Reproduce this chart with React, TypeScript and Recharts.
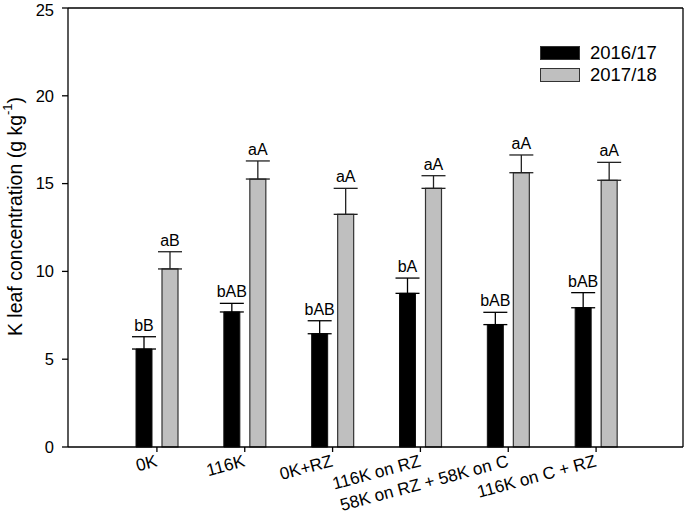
import {
  Bar,
  BarChart,
  CartesianGrid,
  ErrorBar,
  LabelList,
  Legend,
  XAxis,
  YAxis,
} from "recharts";

const categories = [
  "0K",
  "116K",
  "0K+RZ",
  "116K on RZ",
  "58K on RZ + 58K on C",
  "116K on C + RZ",
];
const season1 = [5.58, 7.69, 6.45, 8.75, 6.97, 7.93];
const season1Err = [0.7, 0.49, 0.74, 0.87, 0.7, 0.86];
const season1Letters = ["bB", "bAB", "bAB", "bA", "bAB", "bAB"];
const season2 = [10.14, 15.26, 13.25, 14.73, 15.62, 15.19];
const season2Err = [0.98, 1.03, 1.48, 0.72, 1.01, 1.02];
const season2Letters = ["aB", "aA", "aA", "aA", "aA", "aA"];
const seriesNames = ["2016/17", "2017/18"];
const yTicks = [0, 5, 10, 15, 20, 25];

const FONT = '"Liberation Sans", Arial, sans-serif';

const rows = categories.map((name, i) => ({
  name,
  s1: season1[i],
  s1Err: [0, season1Err[i]],
  s2: season2[i],
  s2Err: [0, season2Err[i]],
}));

function letterLabel(letters: string[], errs: number[]) {
  return (props: any) => {
    const { x, y, width, height, value, index } = props;
    const perUnit = height / value;
    const capY = y - errs[index] * perUnit;
    return (
      <text
        x={x + width / 2}
        y={capY - 6}
        textAnchor="middle"
        fontSize={16}
        fontFamily={FONT}
        fill="#000"
      >
        {letters[index]}
      </text>
    );
  };
}

function CategoryTick(props: any) {
  const { x, y, payload } = props;
  return (
    <g transform={`translate(${x},${y})`}>
      <text
        x={-2}
        y={0}
        dy={12}
        textAnchor="end"
        transform="rotate(-15)"
        fontSize={17.2}
        fontFamily={FONT}
        fill="#000"
      >
        {payload.value}
      </text>
    </g>
  );
}

function YLabel(props: any) {
  const { viewBox } = props;
  const cx = 15;
  const cy = viewBox.y + viewBox.height / 2 - 11;
  return (
    <text
      x={cx}
      y={cy}
      transform={`rotate(-90, ${cx}, ${cy})`}
      textAnchor="middle"
      dominantBaseline="central"
      fontSize={19.5}
      fontFamily={FONT}
      fill="#000"
    >
      K leaf concentration (g kg
      <tspan fontSize={13} dy={-8}>
        -1
      </tspan>
      <tspan dy={8}>)</tspan>
    </text>
  );
}

function SeasonLegend() {
  const fills = ["#000", "#bfbfbf"];
  return (
    <div style={{ fontFamily: FONT, fontSize: 18.5, color: "#000" }}>
      {seriesNames.map((n, i) => (
        <div
          key={n}
          style={{ display: "flex", alignItems: "center", height: 22 }}
        >
          <span
            style={{
              display: "inline-block",
              width: 38,
              height: 12,
              background: fills[i],
              border: "1px solid #333",
              marginRight: 10,
            }}
          />
          {n}
        </div>
      ))}
    </div>
  );
}

export default function App() {
  return (
    <div style={{ position: "fixed", left: 0, top: 0, background: "#fff" }}>
      <BarChart
        width={685}
        height={514}
        data={rows}
        margin={{ top: 8, right: 2, left: 0, bottom: 7 }}
        barSize={16}
        barGap={10}
      >
        {/* top and right edges of the frame */}
        <CartesianGrid
          stroke="#000"
          strokeWidth={1.3}
          horizontalCoordinatesGenerator={({ offset }: any) => [offset.top]}
          verticalCoordinatesGenerator={({ offset }: any) => [
            offset.left + offset.width,
          ]}
        />
        <XAxis
          dataKey="name"
          padding={{ left: 45, right: 43 }}
          height={60}
          stroke="#000"
          strokeWidth={1.3}
          tickSize={5}
          tick={<CategoryTick />}
          interval={0}
        />
        <YAxis
          domain={[0, 25]}
          ticks={yTicks}
          width={68}
          stroke="#000"
          strokeWidth={1.3}
          tickSize={6}
          tickMargin={8}
          tick={{ fontSize: 16.5, fontFamily: FONT, fill: "#000" }}
          label={<YLabel />}
        />
        <Legend
          content={<SeasonLegend />}
          layout="horizontal"
          verticalAlign="middle"
          align="center"
          wrapperStyle={{ top: 42, left: 540, width: 140 }}
        />
        <Bar
          dataKey="s1"
          name={seriesNames[0]}
          fill="#000"
          stroke="#111"
          strokeWidth={1}
          isAnimationActive={false}
        >
          <ErrorBar
            dataKey="s1Err"
            direction="y"
            width={12}
            stroke="#000"
            strokeWidth={1.3}
          />
          <LabelList
            dataKey="s1"
            content={letterLabel(season1Letters, season1Err)}
          />
        </Bar>
        <Bar
          dataKey="s2"
          name={seriesNames[1]}
          fill="#bfbfbf"
          stroke="#333"
          strokeWidth={1.2}
          isAnimationActive={false}
        >
          <ErrorBar
            dataKey="s2Err"
            direction="y"
            width={12}
            stroke="#222"
            strokeWidth={1.3}
          />
          <LabelList
            dataKey="s2"
            content={letterLabel(season2Letters, season2Err)}
          />
        </Bar>
      </BarChart>
    </div>
  );
}
